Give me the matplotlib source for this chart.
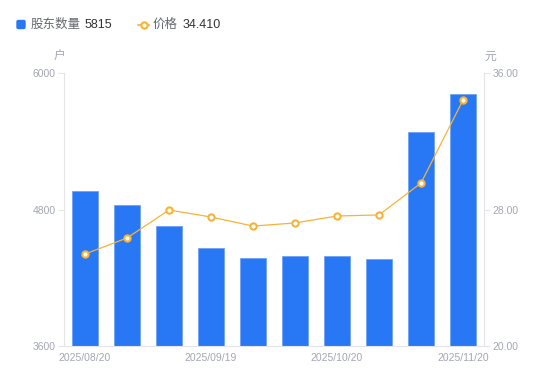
import matplotlib
matplotlib.use("Agg")
import matplotlib.pyplot as plt
from matplotlib.lines import Line2D
from matplotlib.patches import FancyBboxPatch

plt.rcParams['font.family'] = ['Liberation Sans', 'Noto Sans CJK SC', 'DejaVu Sans']

# data
dates = ['2025/08/20', '2025/08/29', '2025/09/10', '2025/09/19', '2025/09/30',
         '2025/10/10', '2025/10/20', '2025/10/31', '2025/11/10', '2025/11/20']
holders = [4963, 4840, 4655, 4462, 4374, 4391, 4391, 4365, 5481, 5815]
price = [25.39, 26.33, 27.97, 27.56, 27.03, 27.21, 27.62, 27.68, 29.55, 34.41]
shown_ticks = [0, 3, 6, 9]

blue = '#2878F5'
orange = '#F7B337'
gray_txt = '#A3A6B4'
axis_col = '#E3E4E8'

W, H = 550, 381
fig = plt.figure(figsize=(W / 100, H / 100), dpi=100)
ax = fig.add_axes([64 / W, (H - 346) / H, (484 - 64) / W, (346 - 73) / H])
ax2 = ax.twinx()

x = list(range(len(dates)))
ax.bar(x, holders, width=0.6, color=blue, edgecolor='#6FA3F8', linewidth=0.6, zorder=2)
ax.set_xlim(-0.5, len(dates) - 0.5)
ax.set_ylim(3600, 6000)
ax.set_yticks([3600, 4800, 6000])
ax.set_yticklabels(['3600', '4800', '6000'])
ax.set_xticks(shown_ticks)
ax.set_xticklabels([dates[i] for i in shown_ticks])

ax2.plot(x, price, color=orange, linewidth=0.9, marker='o', markersize=4.5,
         markerfacecolor='white', markeredgecolor=orange, markeredgewidth=1.5, zorder=3)
ax2.set_ylim(20, 36)
ax2.set_yticks([20, 28, 36])
ax2.set_yticklabels(['20.00', '28.00', '36.00'])

for a in (ax, ax2):
    for s in a.spines.values():
        s.set_visible(False)
ax.spines['left'].set_visible(True)
ax.spines['bottom'].set_visible(True)
ax2.spines['right'].set_visible(True)
ax.spines['left'].set_color(axis_col)
ax.spines['bottom'].set_color(axis_col)
ax2.spines['right'].set_color(axis_col)

ax.tick_params(axis='y', colors=axis_col, labelcolor=gray_txt, labelsize=7.5, length=4, pad=2)
ax.tick_params(axis='x', length=0, labelcolor=gray_txt, labelsize=7.5, pad=5)
ax2.tick_params(axis='y', colors=axis_col, labelcolor=gray_txt, labelsize=7.5, length=4, pad=2)

# unit labels
fig.text(59 / W, 1 - 57 / H, '户', color=gray_txt, fontsize=8.5, ha='center', va='center')
fig.text(490 / W, 1 - 57 / H, '元', color=gray_txt, fontsize=8.5, ha='center', va='center')

# legend
ly = 1 - 24.5 / H
fig.patches.append(FancyBboxPatch((17 / W, ly - 4 / H), 8 / W, 8 / H,
                                  boxstyle='round,pad=0,rounding_size=0.003',
                                  transform=fig.transFigure, color=blue, figure=fig))
fig.text(31 / W, ly, '股东数量', color='#666870', fontsize=9, va='center')
fig.text(85 / W, ly, '5815', color='#333333', fontsize=9, va='center')
fig.lines.append(Line2D([138 / W, 149 / W], [ly, ly], transform=fig.transFigure, color=orange,
                        linewidth=1.2, figure=fig))
fig.lines.append(Line2D([143.5 / W], [ly], transform=fig.transFigure, color=orange, marker='o',
                        markersize=4.5, markerfacecolor='white', markeredgewidth=1.5, figure=fig))
fig.text(153 / W, ly, '价格', color='#666870', fontsize=9, va='center')
fig.text(183 / W, ly, '34.410', color='#333333', fontsize=9, va='center')

fig.savefig('out.png', dpi=100)
